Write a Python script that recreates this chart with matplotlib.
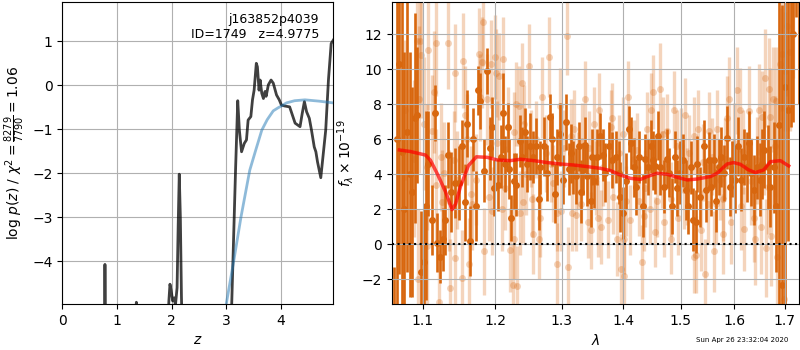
import numpy as np
import matplotlib.pyplot as plt
from matplotlib.ticker import FixedFormatter, NullLocator

# redshift probability and prior
pz_z = [0.00, 0.50, 0.76, 0.772, 0.780, 0.790, 0.800, 0.83, 1.00, 1.30,
        1.34, 1.355, 1.37, 1.45, 1.90, 1.95, 1.97, 1.99, 2.02, 2.05,
        2.07, 2.10, 2.12, 2.14, 2.16, 2.18, 2.20, 2.25, 2.60, 3.00,
        3.05, 3.10, 3.17, 3.21, 3.24, 3.28, 3.33, 3.37, 3.40, 3.45,
        3.48, 3.51, 3.55, 3.57, 3.60, 3.62, 3.65, 3.68, 3.71, 3.73,
        3.77, 3.82, 3.86, 3.92, 3.97, 4.01, 4.07, 4.16, 4.26, 4.35,
        4.39, 4.43, 4.47, 4.52, 4.56, 4.61, 4.64, 4.67, 4.73, 4.77,
        4.82, 4.87, 4.92, 4.96]
pz_logp = [-9.0, -8.0, -7.0, -5.5, -4.07, -5.5, -8.0, -9.0, -10.0, -7.0,
           -5.2, -4.93, -5.2, -8.0, -6.5, -4.9, -4.52, -4.65, -4.9, -4.83,
           -5.0, -4.6, -3.2, -2.02, -3.0, -4.8, -6.0, -9.0, -10.0, -8.0,
           -7.0, -4.97, -1.93, -0.35, -1.02, -1.51, -1.32, -1.24, -0.79, -0.71,
           -0.33, -0.11, 0.50, 0.42, -0.11, 0.12, -0.18, -0.30, -0.14, -0.25,
           0.01, 0.12, 0.05, -0.22, -0.33, -0.45, -0.47, -0.49, -0.86, -0.94,
           -0.64, -0.37, -0.60, -0.75, -1.02, -1.40, -1.51, -1.74, -2.10, -1.62,
           -1.02, 0.12, 0.95, 1.03]

prior_z = [2.80, 2.90, 3.00, 3.14, 3.27, 3.43, 3.54, 3.65, 3.75, 3.86,
           3.95, 4.01, 4.10, 4.25, 4.44, 4.70, 4.96]
prior_logp = [-6.8, -5.8, -4.97, -3.97, -2.99, -1.93, -1.47, -1.02, -0.78, -0.58,
              -0.51, -0.47, -0.40, -0.35, -0.33, -0.36, -0.40]

# binned grism spectrum
dark_wave = [1.062, 1.066, 1.069, 1.073, 1.075, 1.079, 1.083, 1.086, 1.090, 1.093,
             1.097, 1.101, 1.104, 1.107, 1.112, 1.116, 1.119, 1.123, 1.127, 1.130,
             1.134, 1.138, 1.143, 1.149, 1.153, 1.157, 1.160, 1.164, 1.168, 1.172,
             1.175, 1.179, 1.184, 1.189, 1.193, 1.196, 1.199, 1.204, 1.208, 1.211,
             1.215, 1.218, 1.220, 1.223, 1.227, 1.231, 1.236, 1.240, 1.244, 1.247,
             1.251, 1.256, 1.260, 1.265, 1.267, 1.272, 1.278, 1.282, 1.285, 1.289,
             1.293, 1.298, 1.302, 1.307, 1.311, 1.314, 1.318, 1.323, 1.327, 1.330,
             1.334, 1.337, 1.340, 1.346, 1.349, 1.352, 1.357, 1.362, 1.367, 1.370,
             1.376, 1.381, 1.387, 1.392, 1.395, 1.400, 1.405, 1.409, 1.413, 1.418,
             1.422, 1.426, 1.433, 1.437, 1.442, 1.447, 1.451, 1.455, 1.460, 1.464,
             1.470, 1.475, 1.479, 1.484, 1.489, 1.494, 1.498, 1.504, 1.509, 1.513,
             1.518, 1.523, 1.527, 1.530, 1.536, 1.542, 1.547, 1.552, 1.556, 1.561,
             1.566, 1.570, 1.575, 1.580, 1.586, 1.591, 1.596, 1.602, 1.607, 1.612,
             1.618, 1.624, 1.628, 1.633, 1.638, 1.645, 1.650, 1.654, 1.659, 1.666,
             1.671, 1.678, 1.683, 1.689, 1.695, 1.700, 1.706, 1.712, 1.718, 1.724,
             1.729]
dark_flux = [-4.6, 6.0, 10.3, 5.3, 2.0, 6.4, 4.0, 3.0, 7.2, 7.4,
             -1.6, -1.0, 2.2, 4.6, 1.4, 7.5, 0.1, -0.7, 0.3, 1.4,
             5.1, 3.0, 3.5, 3.5, 5.6, 2.4, 6.9, 0.2, 6.0, 2.2,
             8.8, 8.2, 4.2, 9.9, 5.5, 6.7, 3.2, 3.4, 5.0, 7.5,
             4.6, 6.7, 4.3, 1.5, 3.6, 3.4, 5.9, 5.0, 6.4, 4.6,
             5.6, 5.0, 5.6, 2.6, 4.4, 5.6, 4.1, 7.3, 6.0, 2.9,
             5.0, 6.3, 3.7, 7.0, 4.3, 5.2, 4.4, 3.9, 5.6, 3.0,
             4.3, 5.7, 3.9, 2.5, 5.0, 3.6, 5.0, 6.2, 5.1, 4.1,
             5.6, 4.8, 5.0, 4.1, 2.7, 1.8, 3.6, 6.6, 5.8, 4.4,
             3.3, 5.0, 2.2, 4.9, 4.4, 5.6, 4.8, 4.5, 6.2, 4.4,
             3.3, 4.9, 4.1, 2.2, 5.0, 3.2, 4.1, 4.8, 3.1, 2.2,
             4.4, 1.4, 1.3, 4.6, 2.7, 5.6, 3.1, 4.8, 3.3, 4.8,
             2.5, 4.4, 5.0, 4.1, 6.1, 3.3, 4.3, 3.7, 5.6, 3.7,
             5.0, 4.4, 5.8, 4.1, 3.1, 4.4, 3.7, 4.6, 5.4, 4.4,
             3.3, 4.4, 2.2, 6.8, -2.3, 9.0, 7.7, 15.0, 12.0, 18.0,
             14.0]
dark_err = [3.3, 12, 12, 10, 9, 8, 7, 6, 6, 3.9,
            3.5, 3.0, 5.4, 3.0, 2.0, 1.6, 1.7, 1.5, 1.8, 2.0,
            1.9, 2.3, 2.0, 2.1, 1.5, 2.2, 1.9, 2.0, 1.8, 2.0,
            1.4, 1.6, 1.8, 1.3, 1.8, 1.7, 1.6, 1.5, 1.8, 2.3,
            1.6, 1.4, 1.7, 1.3, 1.6, 1.8, 1.5, 1.7, 1.4, 1.6,
            1.9, 1.5, 1.6, 1.8, 1.5, 1.7, 1.6, 1.3, 1.5, 1.7,
            1.6, 1.8, 1.4, 1.6, 1.5, 1.7, 1.5, 1.6, 1.4, 1.8,
            1.5, 1.6, 1.7, 1.5, 1.6, 1.5, 1.6, 1.3, 1.5, 1.7,
            1.4, 1.6, 1.5, 1.8, 2.0, 1.5, 1.6, 1.3, 1.5, 1.7,
            1.6, 1.5, 1.8, 1.4, 1.6, 1.5, 1.7, 1.6, 1.4, 1.6,
            1.5, 1.7, 1.4, 1.6, 1.5, 1.6, 1.8, 1.5, 1.7, 1.6,
            1.5, 1.8, 1.8, 1.6, 1.7, 1.5, 1.8, 1.6, 1.7, 1.5,
            1.8, 1.6, 1.7, 1.6, 1.8, 1.7, 1.6, 1.9, 1.7, 1.8,
            1.6, 2.0, 1.8, 1.9, 2.0, 1.8, 2.1, 2.0, 2.2, 2.4,
            2.3, 2.6, 3.8, 12, 16, 14, 7.5, 8.3, 5, 5,
            6]

# unbinned pixels (drawn faint)
light_wave = [1.077, 1.088, 1.093, 1.094, 1.095, 1.096, 1.098, 1.101, 1.105, 1.106,
              1.107, 1.112, 1.115, 1.117, 1.118, 1.121, 1.124, 1.126, 1.128, 1.134,
              1.135, 1.137, 1.142, 1.143, 1.144, 1.146, 1.153, 1.155, 1.157, 1.160,
              1.163, 1.165, 1.167, 1.172, 1.177, 1.178, 1.181, 1.182, 1.184, 1.189,
              1.191, 1.194, 1.195,
              1.200, 1.201, 1.203, 1.206, 1.210, 1.211, 1.215, 1.218, 1.222, 1.226,
              1.227, 1.228, 1.231, 1.232, 1.235, 1.236, 1.240, 1.241, 1.242, 1.246,
              1.250, 1.253, 1.255, 1.256, 1.260, 1.265, 1.266, 1.269, 1.275, 1.280,
              1.283, 1.286, 1.292, 1.293, 1.298, 1.299, 1.303, 1.309, 1.310, 1.314,
              1.316, 1.319, 1.323, 1.326, 1.330, 1.332, 1.337, 1.341, 1.344, 1.347,
              1.352, 1.354, 1.358, 1.360, 1.363, 1.366, 1.374, 1.380, 1.381, 1.382,
              1.389, 1.393, 1.396, 1.400, 1.401, 1.402, 1.404, 1.408, 1.412, 1.418,
              1.424, 1.426, 1.431, 1.435, 1.437, 1.441, 1.445, 1.448, 1.451, 1.454,
              1.458, 1.463, 1.466, 1.469, 1.471, 1.476, 1.482, 1.483, 1.488, 1.494,
              1.495, 1.500, 1.506, 1.507, 1.512, 1.515, 1.524, 1.525,
              1.527, 1.531, 1.537, 1.540, 1.545, 1.550, 1.552, 1.557, 1.561, 1.566,
              1.567, 1.572, 1.578, 1.579, 1.583, 1.586, 1.589, 1.594, 1.599, 1.605,
              1.610, 1.612, 1.616, 1.618, 1.628, 1.633, 1.638, 1.641, 1.645, 1.648,
              1.652, 1.654, 1.658, 1.661, 1.663, 1.666, 1.669, 1.671, 1.672, 1.676,
              1.680, 1.683, 1.685, 1.691, 1.695, 1.698, 1.701, 1.705, 1.710, 1.716]
light_flux = [7.7, 4.9, 11.6, -2.0, 8.3, 11.6, 10.8, 6.9, -0.1, 4.4,
              11.1, 6.5, 8.7, 3.4, 11.5, -3.3, 5.0, 2.4, 4.1, 11.5,
              2.5, -2.5, 4.8, 9.8, -0.8, 3.7, -1.9, 10.5, 7.4, 6.0,
              -1.1, 2.9, 2.3, 3.7, 10.9, 8.4, 10.4, 12.7, -0.4, 8.3,
              2.7, 10.3, 1.9,
              10.7, 9.8, 5.8, 9.6, 2.0, 10.6, 3.2, 6.7, -0.3, -2.3,
              6.4, 0.3, 8.0, -2.4, 7.9, 1.8, 9.2, 2.4, 6.9, 4.0,
              10.2, 5.5, 2.6, 0.6, 6.0, 0.3, 1.5, 8.4, 5.2, 10.7,
              4.6, 3.5, -1.1, 1.8, 7.9, 1.9, 5.5, 11.9, -1.3, 6.2,
              1.8, 6.6, 1.7, 4.2, 2.3, 5.9, 8.3, 1.3, 5.5, 0.8,
              6.9, 3.8, 1.5, 7.7, 1.0, 4.4, 1.4, 6.7, 7.2, 2.7,
              0.3, 5.2, -1.4, 6.3, 0.3, -1.8, 2.5, 8.4, 1.4, 4.9,
              5.4, 2.5, -1.0, 1.6, 3.2, 6.6, 2.0, 7.7, 8.7, 0.7,
              2.5, 8.9, 4.3, 6.3, 1.3, 6.5, 2.6, 0.3, 7.7, 5.6,
              1.5, 5.6, 3.1, 7.4, 3.3, 5.2, 6.2, -0.7,
              -0.6, 6.6, 0.8, 4.7, -1.7, 2.3, 6.5, 5.0, -0.4, 2.3,
              6.6, 3.7, 2.6, 0.6, 4.9, 7.2, 8.3, 1.3, 5.8, 8.8,
              7.7, 2.2, 5.3, 0.9, 7.6, 3.6, 1.5, 0.3, 4.8, 7.7,
              1.0, 7.3, 5.4, 9.5, -0.2, 3.3, 8.9, 7.3, 0.5, 8.3,
              5.6, 8.2, -0.7, 10.3, 10.9, -3.1, 9.9, 12.5, 11.0, 14.5]
light_err = [4.0, 4.5, 3.8, 4.0, 4.2, 3.5, 3.6, 3.8, 3.5, 3.6,
             3.4, 3.2, 3.5, 3.2, 3.0, 3.0, 3.1, 3.0, 2.9, 2.6,
             2.9, 2.8, 2.8, 2.8, 2.7, 2.8, 2.7, 2.7, 2.8, 2.6,
             2.6, 2.7, 2.6, 2.6, 2.6, 2.5, 2.6, 2.5, 2.5, 2.6,
             2.5, 2.5, 2.5,
             2.4, 2.5, 2.4, 2.5, 2.4, 2.4, 2.4, 2.3, 2.4, 2.4,
             2.3, 2.3, 2.4, 2.3, 2.3, 2.4, 2.3, 2.3, 2.2, 2.3,
             2.4, 2.2, 2.2, 2.3, 2.2, 2.3, 2.2, 2.3, 2.2, 2.3,
             2.2, 2.2, 2.3, 2.2, 2.2, 2.3, 2.2, 2.2, 2.3, 2.1,
             2.2, 2.2, 2.1, 2.2, 2.1, 2.2, 2.2, 2.1, 2.1, 2.2,
             2.1, 2.1, 2.2, 2.1, 2.1, 2.2, 2.2, 2.1, 2.0, 2.1,
             2.1, 2.2, 2.0, 2.1, 2.0, 2.1, 2.0, 2.1, 2.0, 2.2,
             2.1, 2.0, 2.1, 2.0, 2.2, 2.1, 2.0, 2.1, 2.1, 2.0,
             2.1, 2.6, 2.2, 2.1, 2.0, 2.1, 2.1, 2.0, 2.2, 2.1,
             2.1, 2.2, 2.2, 2.1, 2.2, 2.2, 2.2, 2.1,
             2.2, 2.2, 2.3, 2.2, 2.0, 2.3, 2.2, 2.2, 2.3, 2.3,
             2.2, 2.3, 2.4, 2.3, 2.3, 2.4, 2.4, 2.4, 2.3, 2.5,
             2.4, 2.5, 2.4, 2.4, 2.6, 2.5, 2.5, 2.6, 2.5, 2.6,
             2.7, 2.6, 2.6, 2.8, 2.8, 2.7, 2.9, 2.8, 2.9, 3.0,
             2.9, 3.1, 3.0, 3.2, 3.3, 3.2, 3.4, 4.0, 4.5, 5.0]

# best-fit template
model_wave = [1.0695, 1.0839, 1.1036, 1.1102, 1.1197, 1.1305, 1.1394, 1.1442, 1.1510, 1.1621,
              1.1733, 1.1886, 1.2029, 1.2223, 1.2371, 1.2571, 1.2775, 1.2981, 1.3191, 1.3405,
              1.3621, 1.3786, 1.3953, 1.4121, 1.4292, 1.4407, 1.4582, 1.4758, 1.4936, 1.5117,
              1.5300, 1.5547, 1.5672, 1.5862, 1.5988, 1.6117, 1.6279, 1.6411, 1.6575, 1.6709,
              1.6911, 1.7081]
model_flux = [5.39, 5.30, 5.10, 4.80, 4.00, 3.00, 1.98, 2.30, 3.30, 4.50,
              5.00, 4.97, 4.82, 4.78, 4.86, 4.78, 4.67, 4.59, 4.53, 4.44,
              4.34, 4.21, 3.96, 3.77, 3.71, 3.87, 4.06, 4.00, 3.83, 3.68,
              3.73, 3.87, 4.06, 4.59, 4.67, 4.57, 4.25, 4.10, 4.25, 4.72,
              4.78, 4.48]

wave_ticks = [1.1, 1.2, 1.3, 1.4, 1.5, 1.6, 1.7]
wave_labels = ['1.1', '1.2', '1.3', '1.4', '1.5', '1.6', '1.7']

orange = '#d8670f'

fig = plt.figure(figsize=(8, 3.5), dpi=100)

# left: p(z)
ax = fig.add_axes([0.0779, 0.1314, 0.3388, 0.8637])
ax.plot(pz_z, pz_logp, color='k', alpha=0.75, lw=2)
ax.plot(prior_z, prior_logp, color='C0', alpha=0.5, lw=2)
ax.set_xlim(0, 4.96)
ax.set_ylim(-4.97, 1.90)
ax.set_xticks([0, 1, 2, 3, 4])
ax.set_yticks([-4, -3, -2, -1, 0, 1])
ax.grid()
ax.text(0.947, 0.963, 'j163852p4039\nID=1749   z=4.9775', ha='right', va='top',
        transform=ax.transAxes, fontsize=9)
ax.set_xlabel(r'$z$')
ax.set_ylabel(r'$\log\,p(z)$ / $\chi^2=\frac{8279}{7790}=1.06$')

# right: spectrum
ax = fig.add_axes([0.4896, 0.1314, 0.5095, 0.8637])
ax.errorbar(light_wave, light_flux, yerr=light_err, fmt='o', color=orange,
            alpha=0.28, ms=5, mew=0, elinewidth=2.4, zorder=1)
ax.errorbar(dark_wave, dark_flux, yerr=dark_err, fmt='o', color=orange,
            ms=5, mew=0, elinewidth=1.9, zorder=2)
ax.plot(model_wave, model_flux, color='r', alpha=0.7, lw=2.5, zorder=4)
ax.axhline(0, color='k', ls=':', lw=1.5, zorder=5)
ax.set_xscale('log')
ax.set_xlim(1.0596, 1.730)
ax.set_ylim(-3.41, 13.86)
ax.set_xticks(wave_ticks)
ax.xaxis.set_major_formatter(FixedFormatter(wave_labels))
ax.xaxis.set_minor_locator(NullLocator())
ax.set_yticks([-2, 0, 2, 4, 6, 8, 10, 12])
ax.set_axisbelow(False)
ax.grid(zorder=3)
ax.set_xlabel(r'$\lambda$')
ax.set_ylabel(r'$f_\lambda\times10^{-19}$')

fig.text(0.985, 0.029, 'Sun Apr 26 23:32:04 2020', ha='right', va='center', fontsize=5)

fig.savefig('out.png', dpi=100)
